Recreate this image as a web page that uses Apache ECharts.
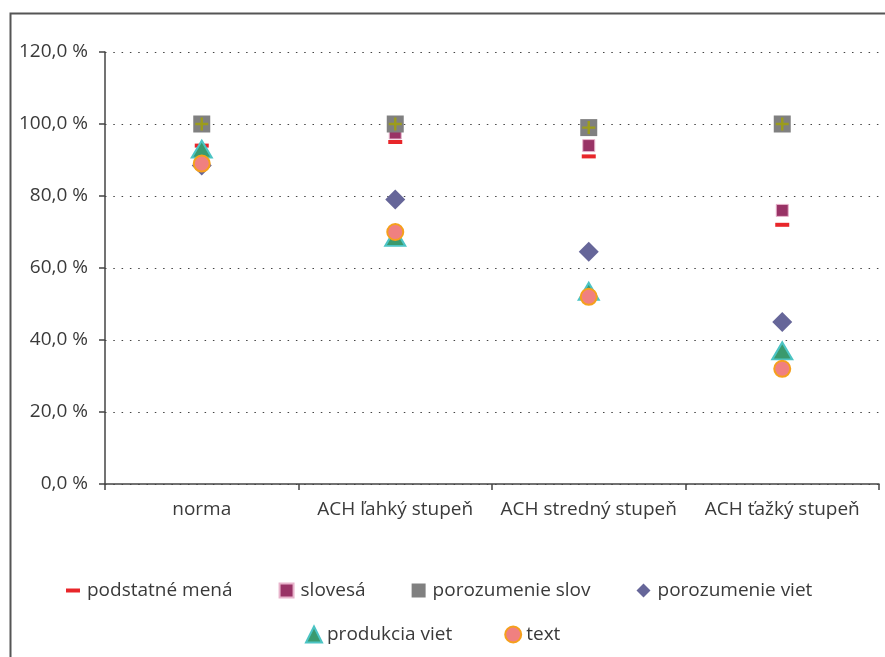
<!DOCTYPE html>
<html lang="sk">
<head>
<meta charset="UTF-8">
<title>ACH</title>
<script src="https://cdn.jsdelivr.net/npm/echarts@6/dist/echarts.min.js"></script>
<style>
  html, body { margin: 0; padding: 0; background: #fff; }
</style>
</head>
<body>
<div id="main" style="width:885px;height:657px;"></div>
<script>
    // categories and values (percent)
    const categories = ['norma', 'ACH ľahký stupeň', 'ACH stredný stupeň', 'ACH ťažký stupeň'];
    const podstatneMena = [94, 95, 91, 72];
    const slovesa = [91, 97.5, 94, 76];
    const porozumenieSlov = [100, 100, 99, 100];
    const porozumenieViet = [88.5, 79, 64.5, 45];
    const produkciaViet = [93, 68.5, 53.5, 37];
    const textVals = [89, 70, 52, 32];

    const font = '"Open Sans", "Noto Sans", sans-serif';
    const myChart = echarts.init(document.getElementById('main'));

    // plus sign drawn over the grey squares
    const plusPath = 'path://M6.5,0h3v6.5h6.5v3h-6.5v6.5h-3v-6.5h-6.5v-3h6.5z';

    const option = {
        backgroundColor: '#fff',
        animation: false,
        textStyle: { fontFamily: font, color: '#3a3a3a' },
        graphic: [{
            type: 'rect',
            left: 8, top: 11,
            shape: { width: 900, height: 700 },
            style: { fill: 'none', stroke: '#555', lineWidth: 2 }
        }],
        grid: { left: 105, right: 6, top: 52, bottom: 173 },
        legend: [{
            left: 61, top: 576,
            itemGap: 46, itemWidth: 14, itemHeight: 14,
            textStyle: { fontSize: 19, color: '#3a3a3a', fontFamily: font, padding: [0, 0, 0, 2] },
            data: ['podstatné mená', 'slovesá', 'porozumenie slov', 'porozumenie viet']
        }, {
            left: 300, top: 620,
            itemGap: 52, itemWidth: 16, itemHeight: 16,
            textStyle: { fontSize: 19, color: '#3a3a3a', fontFamily: font },
            data: ['produkcia viet', 'text']
        }],
        xAxis: {
            type: 'category',
            data: categories,
            axisLine: { lineStyle: { color: '#444', width: 1.5 } },
            axisTick: { show: true, length: 6, interval: 0, lineStyle: { color: '#444', width: 1.5 } },
            axisLabel: { fontSize: 19, interval: 0, color: '#3a3a3a', margin: 16, fontFamily: font }
        },
        yAxis: {
            type: 'value',
            min: 0, max: 120, interval: 20,
            axisLine: { show: true, lineStyle: { color: '#444', width: 1.5 } },
            axisTick: { show: true, length: 6, lineStyle: { color: '#444', width: 1.5 } },
            axisLabel: {
                fontSize: 19, color: '#3a3a3a', margin: 17, fontFamily: font,
                formatter: v => v.toFixed(1).replace('.', ',') + ' %'
            },
            splitLine: { lineStyle: { color: '#444', width: 1.2, type: [1.5, 6.8] } }
        },
        series: [{
            name: 'podstatné mená',
            type: 'scatter',
            symbol: 'path://M0,0h14v4h-14z',
            symbolKeepAspect: true,
            symbolSize: 14,
            itemStyle: { color: '#e8262a', opacity: 1 },
            data: podstatneMena
        }, {
            name: 'slovesá',
            type: 'scatter',
            symbol: 'rect',
            symbolSize: 12,
            itemStyle: { color: '#993366', borderColor: '#e8b4cc', borderWidth: 1, opacity: 1 },
            data: slovesa
        }, {
            name: 'porozumenie slov',
            type: 'scatter',
            symbol: 'rect',
            symbolSize: 17,
            itemStyle: { color: '#808080', opacity: 1 },
            data: porozumenieSlov
        }, {
            name: 'porozumenie slov',
            type: 'scatter',
            symbol: plusPath,
            symbolSize: 13,
            itemStyle: { color: '#9c9c1c', opacity: 1 },
            tooltip: { show: false },
            data: porozumenieSlov
        }, {
            name: 'porozumenie viet',
            type: 'scatter',
            symbol: 'diamond',
            symbolSize: [20, 20],
            itemStyle: { color: '#666699', opacity: 1 },
            data: porozumenieViet
        }, {
            name: 'produkcia viet',
            type: 'scatter',
            symbol: 'triangle',
            symbolSize: [20, 17],
            itemStyle: { color: '#3a9a6e', borderColor: '#4cc4c4', borderWidth: 2, opacity: 1 },
            data: produkciaViet
        }, {
            name: 'text',
            type: 'scatter',
            symbol: 'circle',
            symbolSize: 16,
            itemStyle: { color: '#f08080', borderColor: '#f5a01c', borderWidth: 2, opacity: 1 },
            data: textVals
        }]
    };

    myChart.setOption(option);
</script>
</body>
</html>
